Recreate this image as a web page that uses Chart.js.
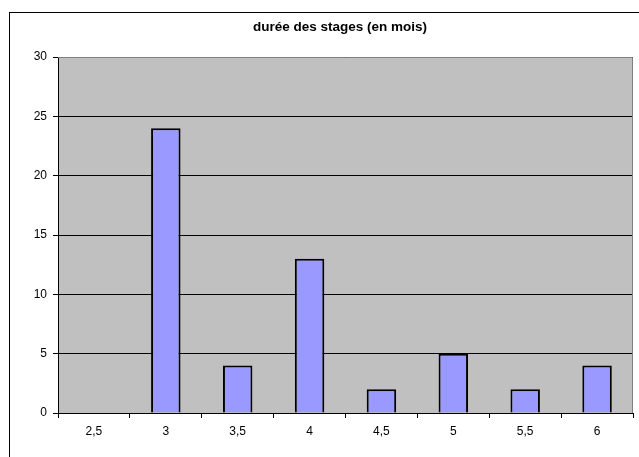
<!DOCTYPE html>
<html><head><meta charset="utf-8">
<script src="https://cdn.jsdelivr.net/npm/chart.js@4"></script>
<style>html,body{margin:0;padding:0;background:#fff}#c{display:block}</style>
</head><body>
<canvas id="c" width="639" height="457"></canvas>
<script>
const categories = ["2,5","3","3,5","4","4,5","5","5,5","6"];
const values = [0,24,4,13,2,5,2,4];
const yTicks = [0,5,10,15,20,25,30];
const titleText = "durée des stages (en mois)";

const frame = {
  id:'frame',
  afterLayout(chart){
    const tb = chart.titleBlock;
    if (tb) { tb.left = 47; tb.right = 633; tb.width = 586; }
  },
  beforeDraw(chart){
    const ctx = chart.ctx, a = chart.chartArea;
    ctx.save();
    ctx.fillStyle = '#fff';
    ctx.fillRect(0,0,chart.width,chart.height);
    ctx.strokeStyle = '#000'; ctx.lineWidth = 1;
    ctx.strokeRect(9.5,12.5,700,500);
    ctx.fillStyle = '#C0C0C0';
    ctx.fillRect(a.left,a.top,a.right-a.left,a.bottom-a.top);
    ctx.restore();
  },
  afterDatasetsDraw(chart){
    const ctx = chart.ctx, a = chart.chartArea;
    ctx.save();
    ctx.strokeStyle = '#808080'; ctx.lineWidth = 1;
    ctx.beginPath();
    ctx.moveTo(a.left, a.top+0.5); ctx.lineTo(a.right-0.5, a.top+0.5); ctx.lineTo(a.right-0.5, a.bottom);
    ctx.stroke();
    ctx.restore();
  }
};

new Chart(document.getElementById('c'), {
  type:'bar',
  data:{labels:categories, datasets:[{data:values, backgroundColor:'#9999FF', borderColor:'#000', borderWidth:2, categoryPercentage:1, barPercentage:0.41}]},
  options:{
    responsive:false, animation:false, devicePixelRatio:1,
    layout:{padding:{left:0,right:6,top:0,bottom:0}},
    plugins:{
      legend:{display:false}, tooltip:{enabled:false},
      title:{display:true, text:titleText, color:'#000', font:{family:'Liberation Sans, Arial', size:13.5, weight:'bold', lineHeight:1.2}, padding:{top:19,bottom:21.8}}
    },
    scales:{
      x:{
        offset:true,
        grid:{offset:true, drawOnChartArea:false, drawTicks:true, tickLength:5, color:'#000'},
        border:{color:'#000'},
        ticks:{color:'#000', font:{family:'Liberation Sans, Arial', size:12}, padding:6, maxRotation:0},
        afterFit(s){ s.height = 44; }
      },
      y:{
        min:0, max:30,
        afterBuildTicks(s){ s.ticks = yTicks.map(v=>({value:v})); },
        grid:{color:'#000', lineWidth:1, tickLength:5, drawTicks:true},
        border:{color:'#000'},
        ticks:{color:'#000', font:{family:'Liberation Sans, Arial', size:12}, padding:6},
        afterFit(s){ s.width = 58; }
      }
    }
  },
  plugins:[frame]
});
</script>
</body></html>
